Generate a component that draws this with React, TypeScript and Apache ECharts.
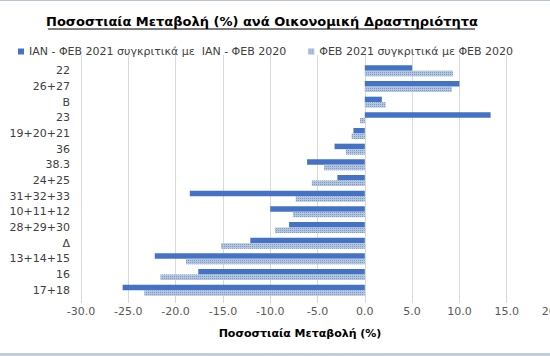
import React, { useEffect, useRef } from "react";
import * as echarts from "echarts";

const categories = ["22", "26+27", "B", "23", "19+20+21", "36", "38.3", "24+25", "31+32+33", "10+11+12", "28+29+30", "Δ", "13+14+15", "16", "17+18"];
const seriesNames = ["ΙΑΝ - ΦΕΒ 2021 συγκριτικά με  ΙΑΝ - ΦΕΒ 2020", "ΦΕΒ 2021 συγκριτικά με ΦΕΒ 2020"];
const janFeb = [5.0, 10.0, 1.8, 13.3, -1.2, -3.2, -6.1, -2.9, -18.5, -10.0, -8.0, -12.1, -22.2, -17.6, -25.6];
const feb = [9.3, 9.2, 2.2, -0.5, -1.4, -2.0, -4.3, -5.6, -7.3, -7.6, -9.5, -15.2, -18.9, -21.6, -23.3];
const titleText = "Ποσοστιαία Μεταβολή (%) ανά Οικονομική Δραστηριότητα";
const axisTitle = "Ποσοστιαία Μεταβολή (%)";

const FONT = "DejaVu Sans, Verdana, sans-serif";

export default function App() {
  const ref = useRef<HTMLDivElement>(null);
  useEffect(() => {
    if (!ref.current) return;
    const chart = echarts.init(ref.current, undefined, { renderer: "svg" });
    chart.setOption({
      animation: false,
      backgroundColor: "#ffffff",
      textStyle: { fontFamily: FONT },
      legend: {
        top: 41,
        left: 13,
        itemWidth: 6,
        itemHeight: 6,
        itemGap: 22,
        icon: "rect",
        textStyle: { fontSize: 11, color: "#404040", fontFamily: FONT },
        data: seriesNames,
      },
      grid: [
        { left: 81, right: -4, top: 63, bottom: 58, outerBoundsMode: "none", containLabel: false },
        { left: 81, right: -4, top: 55, bottom: 58, outerBoundsMode: "none", containLabel: false },
      ],
      xAxis: [
        {
          type: "value",
          gridIndex: 0,
          min: -30,
          max: 20,
          interval: 5,
          axisLine: { show: false },
          axisTick: { show: true, length: 5, lineStyle: { color: "#d9d9d9" } },
          splitLine: { show: false },
          axisLabel: {
            margin: 8,
            fontSize: 11,
            color: "#595959",
            fontFamily: FONT,
            hideOverlap: false,
            formatter: (v: number) => v.toFixed(1),
          },
        },
        {
          type: "value",
          gridIndex: 1,
          min: -30,
          max: 20,
          interval: 5,
          axisLine: { show: false },
          axisTick: { show: false },
          axisLabel: { show: false },
          splitLine: { show: true, lineStyle: { color: "#d9d9d9", width: 1 } },
        },
      ],
      yAxis: [
        {
          type: "category",
          gridIndex: 0,
          data: categories,
          inverse: true,
          axisLine: { show: false },
          axisTick: { show: false },
          axisLabel: { margin: 11, fontSize: 11, color: "#404040", fontFamily: FONT },
        },
        { type: "value", gridIndex: 1, show: false },
      ],
      series: [
        {
          name: seriesNames[0],
          type: "bar",
          data: janFeb,
          barGap: "0%",
          barCategoryGap: "30%",
          itemStyle: { color: "#4472c4" },
        },
        {
          name: seriesNames[1],
          type: "bar",
          data: feb,
          barGap: "0%",
          barCategoryGap: "30%",
          itemStyle: {
            color: "#b4c5df",
            decal: {
              symbol: "rect",
              symbolSize: 1,
              dashArrayX: [1, 1],
              dashArrayY: [1, 1],
              color: "#7f9bc9",
            },
          },
        },
      ],
      graphic: [
        {
          type: "text",
          x: 262,
          y: 21,
          style: {
            text: titleText,
            font: `bold 13px ${FONT}`,
            fill: "#000000",
            textAlign: "center",
            textVerticalAlign: "middle",
          },
        },
        {
          type: "line",
          shape: { x1: 48, y1: 29, x2: 475, y2: 29 },
          style: { stroke: "#000000", lineWidth: 1 },
        },
        {
          type: "text",
          x: 300,
          y: 333,
          style: {
            text: axisTitle,
            font: `bold 11px ${FONT}`,
            fill: "#000000",
            textAlign: "center",
            textVerticalAlign: "middle",
          },
        },
        { type: "rect", shape: { x: 0, y: 0, width: 550, height: 1 }, style: { fill: "#b8c2d2" } },
        { type: "rect", shape: { x: 0, y: 353, width: 550, height: 3 }, style: { fill: "#c4ccd9" } },
      ],
    });
    return () => chart.dispose();
  }, []);
  return (
    <div
      ref={ref}
      style={{ position: "fixed", left: 0, top: 0, width: 550, height: 356 }}
    />
  );
}
